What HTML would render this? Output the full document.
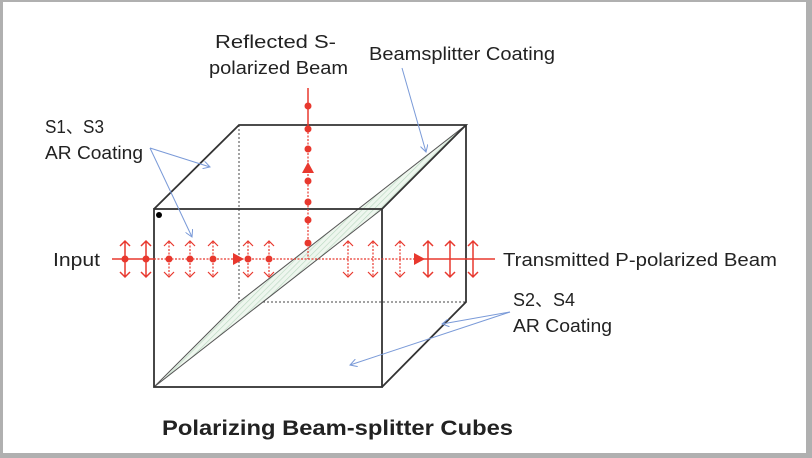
<!DOCTYPE html><html><head><style>body{margin:0;background:#fff}svg{display:block}text{font-family:"Liberation Sans",sans-serif;fill:#222}</style></head><body>
<svg width="812" height="458" viewBox="0 0 812 458" xmlns="http://www.w3.org/2000/svg">
<defs>
<marker id="b" markerWidth="8" markerHeight="8" refX="7" refY="4" orient="auto"><path d="M0,0 L7,4 L0,8" fill="none" stroke="#7a9ad8" stroke-width="1"/></marker>
<pattern id="h" width="4" height="4" patternUnits="userSpaceOnUse" patternTransform="rotate(45)"><rect width="4" height="4" fill="#eef6ee"/><line x1="0" y1="0" x2="0" y2="4" stroke="#b8d8c0" stroke-width="1.2"/></pattern>
</defs>
<rect width="812" height="458" fill="#b0b0b0"/>
<rect x="3" y="2" width="803" height="451" fill="#fff"/>
<g stroke="#444" stroke-width="1" stroke-dasharray="2,2" fill="none">
<line x1="239" y1="125" x2="239" y2="302"/><line x1="239" y1="302" x2="466" y2="302"/>
</g>
<polygon points="154,387 239,302 466,125 382,209" fill="url(#h)" stroke="#555" stroke-width="1"/>
<g stroke="#333" stroke-width="1.8" fill="none">
<rect x="154" y="209" width="228" height="178"/>
<polyline points="154,209 239,125 466,125 382,209"/>
<polyline points="466,125 466,302 382,387"/>
</g>
<circle cx="159" cy="215" r="3" fill="#000"/>
<g stroke="#e8382e" fill="#e8382e">
<line x1="112" y1="259" x2="154" y2="259" stroke-width="1.5"/>
<line x1="154" y1="259" x2="420" y2="259" stroke-width="1.2" stroke-dasharray="2,1.5"/>
<line x1="420" y1="259" x2="495" y2="259" stroke-width="1.5"/>
<line x1="308" y1="88" x2="308" y2="125" stroke-width="1.5"/>
<line x1="308" y1="125" x2="308" y2="259" stroke-width="1.2" stroke-dasharray="2,1.5"/>
<polygon points="233,253 244,259 233,265" stroke="none"/>
<polygon points="414,253 425,259 414,265" stroke="none"/>
<polygon points="302,173 308,162 314,173" stroke="none"/>
<g stroke="none"><circle cx="125" cy="259" r="3.5"/><circle cx="146" cy="259" r="3.5"/><circle cx="169" cy="259" r="3.5"/><circle cx="190" cy="259" r="3.5"/><circle cx="213" cy="259" r="3.5"/><circle cx="248" cy="259" r="3.5"/><circle cx="269" cy="259" r="3.5"/>
<circle cx="308" cy="106" r="3.5"/><circle cx="308" cy="129" r="3.5"/><circle cx="308" cy="149" r="3.5"/><circle cx="308" cy="181" r="3.5"/><circle cx="308" cy="202" r="3.5"/><circle cx="308" cy="220" r="3.5"/><circle cx="308" cy="243" r="3.5"/></g>
<g fill="none" stroke-width="1.5">
<path d="M125,241v36M120,246l5,-5l5,5M120,272l5,5l5,-5"/>
<path d="M146,241v36M141,246l5,-5l5,5M141,272l5,5l5,-5"/>
<path d="M428,241v36M423,246l5,-5l5,5M423,272l5,5l5,-5"/>
<path d="M450,241v36M445,246l5,-5l5,5M445,272l5,5l5,-5"/>
<path d="M473,241v36M468,246l5,-5l5,5M468,272l5,5l5,-5"/>
</g>
<g fill="none" stroke-width="1.2"><g stroke-dasharray="2,1.5">
<path d="M169,242v34M190,242v34M213,242v34M248,242v34M269,242v34M348,242v34M373,242v34M400,242v34"/></g>
<path d="M164,246l5,-5l5,5M164,272l5,5l5,-5M185,246l5,-5l5,5M185,272l5,5l5,-5M208,246l5,-5l5,5M208,272l5,5l5,-5M243,246l5,-5l5,5M243,272l5,5l5,-5M264,246l5,-5l5,5M264,272l5,5l5,-5M343,246l5,-5l5,5M343,272l5,5l5,-5M368,246l5,-5l5,5M368,272l5,5l5,-5M395,246l5,-5l5,5M395,272l5,5l5,-5"/>
</g>
</g>
<g stroke="#7a9ad8" stroke-width="1" fill="none" marker-end="url(#b)">
<line x1="150" y1="148" x2="210" y2="167"/><line x1="150" y1="148" x2="192" y2="237"/>
<line x1="402" y1="68" x2="426" y2="152"/>
<line x1="510" y1="312" x2="442" y2="324"/><line x1="510" y1="312" x2="350" y2="365"/>
</g>
<g font-size="18">
<text x="215" y="48" textLength="121" lengthAdjust="spacingAndGlyphs">Reflected S-</text>
<text x="209" y="74" textLength="139" lengthAdjust="spacingAndGlyphs">polarized Beam</text>
<text x="369" y="60" textLength="186" lengthAdjust="spacingAndGlyphs">Beamsplitter Coating</text>
<text x="45" y="133" textLength="59" lengthAdjust="spacingAndGlyphs">S1、S3</text>
<text x="45" y="159" textLength="98" lengthAdjust="spacingAndGlyphs">AR Coating</text>
<text x="53" y="266" textLength="47" lengthAdjust="spacingAndGlyphs">Input</text>
<text x="503" y="266" textLength="274" lengthAdjust="spacingAndGlyphs">Transmitted P-polarized Beam</text>
<text x="513" y="306" textLength="62" lengthAdjust="spacingAndGlyphs">S2、S4</text>
<text x="513" y="332" textLength="99" lengthAdjust="spacingAndGlyphs">AR Coating</text>
</g>
<text x="162" y="435" font-size="21" font-weight="bold" textLength="351" lengthAdjust="spacingAndGlyphs">Polarizing Beam-splitter Cubes</text>
</svg></body></html>
